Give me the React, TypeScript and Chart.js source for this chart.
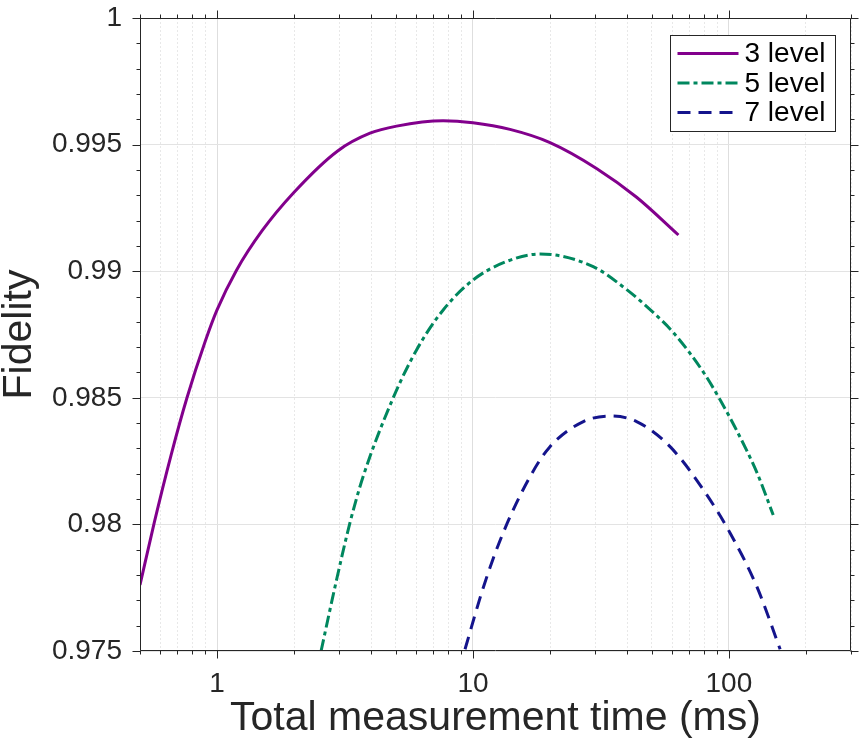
import React, { useEffect, useRef } from 'react';
import { Chart, registerables } from 'chart.js';

Chart.register(...registerables);

// ---------- data ----------
const seriesLabels = ['3 level', '5 level', '7 level'];

const level3Time = [0.5, 0.569, 0.661, 0.763, 0.9, 1.0, 1.19, 1.5, 2, 2.96, 3.96, 5.03, 7.65, 10, 13.95, 20, 30.5, 43.6, 63.5];
const level3Fidelity = [0.97761, 0.98009, 0.98273, 0.985, 0.98724, 0.98847, 0.99003, 0.9916, 0.99312, 0.99475, 0.99545, 0.99573, 0.99594, 0.99586, 0.9956, 0.99508, 0.99405, 0.99292, 0.99143];

const level5Time = [2.55, 2.91, 3.3, 3.72, 4.88, 6.02, 7.65, 10, 13.5, 18.3, 29.5, 40, 51, 61, 80, 92.5, 107, 129, 149];
const level5Fidelity = [0.975, 0.97767, 0.98003, 0.98188, 0.985, 0.98689, 0.98847, 0.98965, 0.99038, 0.99068, 0.99018, 0.98926, 0.98834, 0.98755, 0.98597, 0.98491, 0.98373, 0.98202, 0.98037];

const level7Time = [9.31, 11.0, 13.1, 16.7, 20.0, 27.0, 34.4, 43.6, 58.9, 79.6, 101.2, 128.6, 158.6];
const level7Fidelity = [0.97507, 0.97754, 0.97965, 0.98188, 0.98307, 0.98406, 0.98428, 0.98406, 0.98307, 0.98136, 0.97965, 0.97754, 0.97507];

const seriesColors = ['#82008C', '#00875E', '#14148C'];
const seriesDashes: number[][] = [[], [12, 4, 4, 4], [13, 8]];

const xTickValues = [0.5, 0.6, 0.7, 0.8, 0.9, 1, 2, 3, 4, 5, 6, 7, 8, 9, 10, 20, 30, 40, 50, 60, 70, 80, 90, 100, 200, 300];
const xLabelValues = [1, 10, 100];
const yTickValues = [0.975, 0.98, 0.985, 0.99, 0.995, 1];
const yMinorStep = 0.001;

const X_MIN = 0.5;
const X_MAX = 300;
const Y_MIN = 0.975;
const Y_MAX = 1;

const xTitle = 'Total measurement time (ms)';
const yTitle = 'Fidelity';

// ---------- style ----------
const FONT = '"Liberation Sans", Arial, Helvetica, sans-serif';
const INK = '#262626';

const isDecade = (v: number) => Math.abs(Math.log10(v) - Math.round(Math.log10(v))) < 1e-6;

const framePlugin = {
  id: 'frame',
  afterDraw(chart: any) {
    const { ctx, chartArea: a, scales } = chart;
    const x = scales.x;
    const y = scales.y;
    const L = Math.round(a.left) + 0.5;
    const R = Math.round(a.right) - 0.5;
    const T = Math.round(a.top) + 0.5;
    const B = Math.round(a.bottom) - 0.5;
    ctx.save();
    ctx.strokeStyle = INK;
    ctx.lineWidth = 1;
    ctx.beginPath();
    ctx.moveTo(L, T); ctx.lineTo(R, T); ctx.lineTo(R, B); ctx.lineTo(L, B); ctx.closePath();
    xTickValues.forEach((v) => {
      const px = Math.round(x.getPixelForValue(v)) + 0.5;
      const len = isDecade(v) ? 8 : 4;
      ctx.moveTo(px, B); ctx.lineTo(px, B + len);
      ctx.moveTo(px, T); ctx.lineTo(px, T - len);
    });
    const n = Math.round((Y_MAX - Y_MIN) / yMinorStep);
    for (let k = 0; k <= n; k++) {
      const v = Y_MIN + k * yMinorStep;
      const py = Math.round(y.getPixelForValue(v)) + 0.5;
      const len = k % 5 === 0 ? 8 : 4;
      ctx.moveTo(L, py); ctx.lineTo(L - len, py);
      ctx.moveTo(R, py); ctx.lineTo(R + len, py);
    }
    ctx.stroke();
    ctx.restore();
  },
};

const legendPlugin = {
  id: 'boxLegend',
  afterDraw(chart: any) {
    const { ctx, chartArea: a } = chart;
    const w = 165;
    const h = 96;
    const left = Math.round(a.right - 16 - w) + 0.5;
    const top = Math.round(a.top + 17) + 0.5;
    ctx.save();
    ctx.fillStyle = '#ffffff';
    ctx.fillRect(left, top, w, h);
    ctx.strokeStyle = INK;
    ctx.lineWidth = 1;
    ctx.strokeRect(left, top, w, h);
    ctx.font = `28px ${FONT}`;
    ctx.textBaseline = 'middle';
    ctx.textAlign = 'left';
    chart.data.datasets.forEach((ds: any, i: number) => {
      const cy = top + 18 + i * 29.5;
      ctx.strokeStyle = ds.borderColor;
      ctx.lineWidth = ds.borderWidth;
      ctx.setLineDash(ds.borderDash || []);
      ctx.beginPath();
      ctx.moveTo(left + 7, cy);
      ctx.lineTo(left + 68, cy);
      ctx.stroke();
      ctx.setLineDash([]);
      ctx.fillStyle = '#000000';
      ctx.fillText(ds.label, left + 74, cy + 1);
    });
    ctx.restore();
  },
};

export default function App() {
  const ref = useRef<HTMLCanvasElement | null>(null);

  useEffect(() => {
    if (!ref.current) return;
    const times = [level3Time, level5Time, level7Time];
    const fids = [level3Fidelity, level5Fidelity, level7Fidelity];
    const datasets = seriesLabels.map((label, i) => ({
      label,
      data: times[i].map((t, j) => ({ x: t, y: fids[i][j] })),
      borderColor: seriesColors[i],
      backgroundColor: seriesColors[i],
      borderWidth: 3,
      borderDash: seriesDashes[i],
      pointRadius: 0,
      fill: false,
      cubicInterpolationMode: 'monotone' as const,
    }));

    const chart = new Chart(ref.current, {
      type: 'line',
      data: { datasets },
      plugins: [framePlugin, legendPlugin],
      options: {
        animation: false,
        responsive: false,
        events: [],
        layout: { padding: { top: 18, right: 14, left: 0, bottom: 0 } },
        plugins: {
          legend: { display: false },
          tooltip: { enabled: false },
        },
        scales: {
          x: {
            type: 'logarithmic',
            min: X_MIN,
            max: X_MAX,
            afterBuildTicks: (scale: any) => {
              scale.ticks = xTickValues.map((v) => ({ value: v }));
            },
            afterFit: (scale: any) => {
              scale.height = 95;
              scale.paddingLeft = 0;
              scale.paddingRight = 0;
            },
            ticks: {
              autoSkip: false,
              maxRotation: 0,
              minRotation: 0,
              padding: 16,
              color: INK,
              font: { family: FONT, size: 28 },
              callback: (v: any) => {
                const val = Number(v);
                return xLabelValues.some((m) => Math.abs(m - val) < 1e-9) ? String(val) : '';
              },
            },
            grid: {
              drawTicks: false,
              color: (c: any) => (c.tick && isDecade(c.tick.value) ? '#dedede' : '#e8e8e8'),
              lineWidth: 1,
            },
            border: {
              display: false,
              dash: (c: any) => (c.tick && isDecade(c.tick.value) ? [] : [2, 2]),
            } as any,
            title: {
              display: true,
              text: xTitle,
              color: INK,
              font: { family: FONT, size: 41, lineHeight: 1.2 },
              padding: { top: 0, bottom: 3 },
            },
          },
          y: {
            type: 'linear',
            min: Y_MIN,
            max: Y_MAX,
            afterBuildTicks: (scale: any) => {
              scale.ticks = yTickValues.map((v) => ({ value: v }));
            },
            afterFit: (scale: any) => {
              scale.width = 140;
              scale.paddingTop = 0;
              scale.paddingBottom = 0;
            },
            ticks: {
              padding: 18,
              color: INK,
              font: { family: FONT, size: 28 },
              callback: (v: any) => String(parseFloat(Number(v).toFixed(3))),
            },
            grid: {
              drawTicks: false,
              color: '#e3e3e3',
              lineWidth: 1,
            },
            border: { display: false },
            title: {
              display: true,
              text: yTitle,
              color: INK,
              font: { family: FONT, size: 41, lineHeight: 0.95 },
              padding: { top: 0, bottom: 0 },
            },
          },
        },
      } as any,
    });

    return () => chart.destroy();
  }, []);

  return (
    <div style={{ position: 'fixed', left: 0, top: 0, width: 865, height: 746, background: '#ffffff' }}>
      <canvas ref={ref} width={865} height={746} style={{ display: 'block' }} />
    </div>
  );
}
